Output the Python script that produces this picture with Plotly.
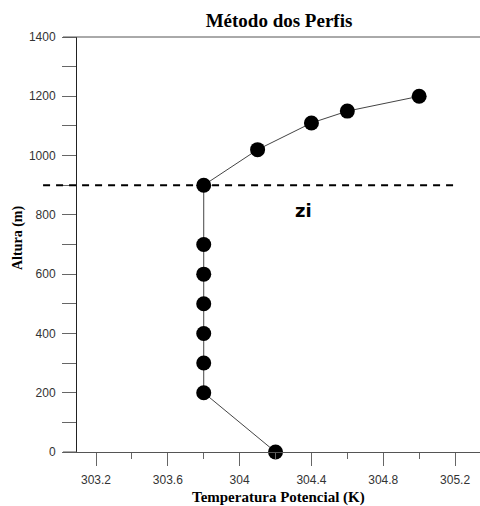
import plotly.graph_objects as go

temperature = [304.2, 303.8, 303.8, 303.8, 303.8, 303.8, 303.8, 303.8, 304.1, 304.4, 304.6, 305.0]
altura = [0, 200, 300, 400, 500, 600, 700, 900, 1020, 1110, 1150, 1200]
zi_height = 900
zi_x_span = [302.905, 305.19]
zi_label = "zi"
zi_label_pos = (304.355, 815)

x_range = [303.094, 305.339]
y_range = [0, 1400]
x_ticks = [303.2, 303.6, 304.0, 304.4, 304.8, 305.2]
x_ticklabels = ["303.2", "303.6", "304", "304.4", "304.8", "305.2"]
y_ticks = [0, 200, 400, 600, 800, 1000, 1200, 1400]

W, H = 480, 506
L, T, B, R = 77, 37, 54, 0
PW, PH = W - L - R, H - T - B

fig = go.Figure()
fig.add_trace(go.Scatter(
    x=temperature, y=altura, mode="lines+markers",
    line=dict(color="#444444", width=1),
    marker=dict(color="black", size=15),
    cliponaxis=False, showlegend=False,
))

def to_paper(v):
    return (v - x_range[0]) / (x_range[1] - x_range[0])

fig.add_shape(type="line", xref="paper", yref="y",
              x0=to_paper(zi_x_span[0]), x1=to_paper(zi_x_span[1]),
              y0=zi_height, y1=zi_height,
              line=dict(color="black", width=2, dash="7px,6px"))

fig.add_annotation(x=zi_label_pos[0], y=zi_label_pos[1], text="<b>" + zi_label + "</b>",
                   showarrow=False, font=dict(family="DejaVu Sans", size=18, color="black"))

# axis titles as annotations for precise placement
fig.add_annotation(xref="paper", yref="paper", x=(278 - L) / PW, y=-(497 - T - PH) / PH,
                   text="<b>Temperatura Potencial (K)</b>", showarrow=False,
                   xanchor="center", yanchor="middle",
                   font=dict(family="Liberation Serif", size=15, color="black"))
fig.add_annotation(xref="paper", yref="paper", x=-(L - 18) / PW, y=1 - (238 - T) / PH,
                   text="<b>Altura (m)</b>", showarrow=False, textangle=-90,
                   xanchor="center", yanchor="middle",
                   font=dict(family="Liberation Serif", size=14, color="black"))

fig.update_layout(
    width=W, height=H,
    margin=dict(l=L, r=R, t=T, b=B, autoexpand=False),
    plot_bgcolor="white", paper_bgcolor="white",
    title=dict(text="<b>Método dos Perfis</b>", x=279 / W, xanchor="center",
               y=1 - 20 / H, yref="container", yanchor="middle", automargin=False,
               font=dict(family="Liberation Serif", size=19, color="black")),
    font=dict(family="Liberation Sans", size=12, color="#333333"),
)
fig.update_xaxes(
    range=x_range, tickvals=x_ticks, ticktext=x_ticklabels, automargin=False,
    ticks="outside", ticklen=13, tickcolor="#666666", tickwidth=1,
    minor=dict(dtick=0.2, tick0=303.2, ticks="outside", ticklen=6, tickcolor="#666666", tickwidth=1),
    showline=True, linecolor="#555555", linewidth=1, mirror=False,
    showgrid=False, zeroline=False, ticklabelstandoff=4,
)
fig.update_yaxes(
    range=y_range, tickvals=y_ticks, automargin=False,
    ticks="outside", ticklen=14, tickcolor="#666666", tickwidth=1,
    minor=dict(dtick=100, ticks="outside", ticklen=14, tickcolor="#666666", tickwidth=1),
    showline=True, linecolor="#222222", linewidth=1,
    showgrid=False, zeroline=False, ticklabelstandoff=4,
)
# top border line
fig.add_shape(type="line", xref="paper", yref="paper", x0=-14 / PW, x1=1, y0=1, y1=1,
              line=dict(color="#555555", width=1))
# extend baseline left over tick
fig.add_shape(type="line", xref="paper", yref="paper", x0=-14 / PW, x1=0, y0=0, y1=0,
              line=dict(color="#555555", width=1))

fig.write_html(
    "out.html",
    config={"displayModeBar": False},
    post_script="document.body.style.margin='0';document.body.style.overflow='hidden';",
)
